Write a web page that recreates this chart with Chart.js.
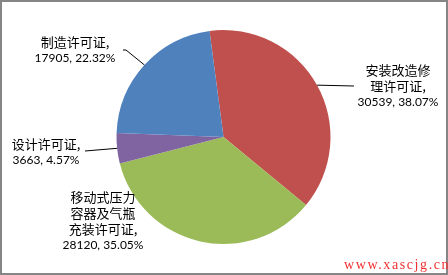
<!DOCTYPE html>
<html>
<head>
<meta charset="utf-8">
<script src="https://cdn.jsdelivr.net/npm/chart.js@4"></script>
<style>
  body { margin: 0; background: #fff; }
  #wrap { position: relative; width: 448px; height: 275px; }
  #frame { position: absolute; left: 0; top: 0; width: 448px; height: 275px; box-sizing: border-box;
           border: 2px solid #868686; }
  #mark { position: absolute; left: 344px; top: 257px; font: 14px "Liberation Serif", serif;
          letter-spacing: 1.6px; color: #f03030; white-space: nowrap; }
</style>
</head>
<body>
<div id="wrap">
  <canvas id="licence-chart" width="448" height="275"></canvas>
  <div id="frame"></div>
  <div id="mark">www.xascjg.cn</div>
</div>
<script>
let ctx = document.getElementById('licence-chart').getContext('2d');

// data, clockwise from the top
const categories = ['安装改造修理许可证', '移动式压力容器及气瓶充装许可证', '设计许可证', '制造许可证'];
const counts = [30539, 28120, 3663, 17905];
const sliceColors = ['#C0504D', '#9BBB59', '#8064A2', '#4F81BD'];

// where each label sits: centre x, first line y, leader end (null = no leader)
const labelSpots = [
    { x: 398, y: 70, lead: [354, 86] },
    { x: 103, y: 197, lead: null },
    { x: 46, y: 144, lead: [85, 151] },
    { x: 75, y: 42, lead: [126, 50, 123, 50] }
];

const total = counts.reduce((a, b) => a + b, 0);

function labelLines(i) {
    let name = categories[i], lines = [];
    for (let k = 0; k < name.length; k += 5) lines.push(name.slice(k, k + 5));
    lines[lines.length - 1] += ',';
    lines.push(counts[i] + ', ' + (counts[i] / total * 100).toFixed(2) + '%');
    return lines;
}

const pieLabels = {
    id: 'pieLabels',
    afterDatasetsDraw(chart) {
        const c = chart.ctx;
        const arcs = chart.getDatasetMeta(0).data;
        c.save();
        arcs.forEach((arc, i) => {
            const spot = labelSpots[i];
            if (spot.lead) {
                const mid = (arc.startAngle + arc.endAngle) / 2;
                c.beginPath();
                c.moveTo(arc.x + Math.cos(mid) * arc.outerRadius, arc.y + Math.sin(mid) * arc.outerRadius);
                for (let k = 0; k < spot.lead.length; k += 2) c.lineTo(spot.lead[k], spot.lead[k + 1]);
                c.strokeStyle = '#000';
                c.lineWidth = 1;
                c.stroke();
            }
            c.fillStyle = '#000';
            c.textAlign = 'center';
            c.textBaseline = 'middle';
            labelLines(i).forEach((line, j) => {
                c.font = /^[0-9]/.test(line) ? '12px Lato' : '13px "Noto Sans CJK SC"';
                c.fillText(line, spot.x, spot.y + j * 16);
            });
        });
        c.restore();
    }
};

const chartdata = {
    labels: categories,
    datasets: [{
        data: counts,
        backgroundColor: sliceColors,
        borderWidth: 0
    }]
};

const chartconfig = {
    type: 'pie',
    data: chartdata,
    options: {
        responsive: false,
        animation: false,
        rotation: -7.5,
        layout: { padding: { left: 116, right: 117, top: 30, bottom: 31 } },
        plugins: {
            legend: { display: false },
            tooltip: { enabled: false }
        }
    },
    plugins: [pieLabels]
};
const makechart = new Chart(ctx, chartconfig);
</script>
</body>
</html>
